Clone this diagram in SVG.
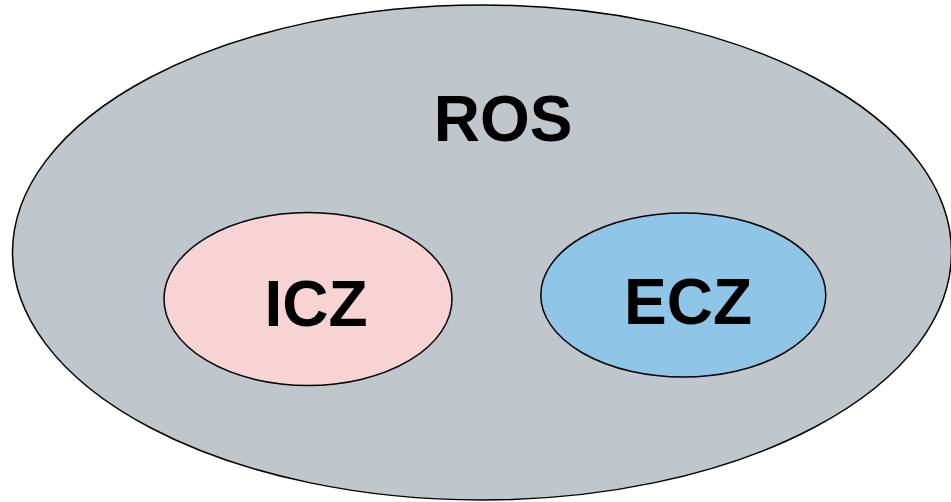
<svg xmlns="http://www.w3.org/2000/svg" width="951" height="502" viewBox="0 0 951 502">
<style>
.shape{stroke:#000;stroke-width:1.5}
.lbl{font-family:"Liberation Sans",Arial,sans-serif;font-weight:bold;font-size:64px;fill:#000;text-anchor:middle}
</style>
<rect width="951" height="502" fill="#fff"/>
<g id="ROS">
<ellipse class="shape" cx="482" cy="252.5" rx="469.5" ry="247.5" fill="#bfc7cc"/>
<text class="lbl" x="503" y="141">ROS</text>
</g>
<g id="ICZ">
<ellipse class="shape" cx="308" cy="299" rx="144" ry="86.5" fill="#f8d3d4"/>
<text class="lbl" x="316" y="326">ICZ</text>
</g>
<g id="ECZ">
<ellipse class="shape" cx="683.3" cy="295" rx="142.5" ry="82" fill="#8fc6e8"/>
<text class="lbl" x="688" y="324">ECZ</text>
</g>
<g id="connectors"></g>
</svg>
